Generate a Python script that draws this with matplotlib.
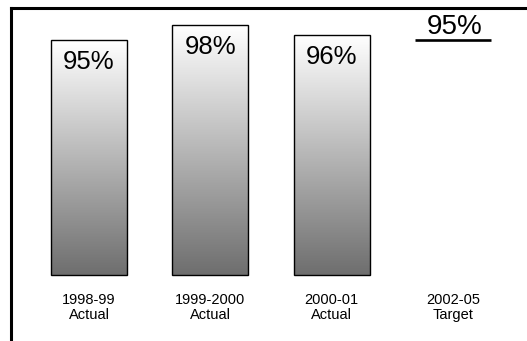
import numpy as np
import matplotlib
matplotlib.use("Agg")
import matplotlib.pyplot as plt
from matplotlib.lines import Line2D

plt.rcParams['font.family'] = ['Liberation Sans', 'DejaVu Sans']

# data
periods = ['1998-99', '1999-2000', '2000-01', '2002-05']
kinds = ['Actual', 'Actual', 'Actual', 'Target']
actual = [95, 98, 96]
target = 95
baseline = 48

W, H = 527, 341
fig = plt.figure(figsize=(W / 100, H / 100), dpi=100)
ax = fig.add_axes([0, 0, 1, 1])
ax.set_xlim(-0.734, 3.611)
ax.set_ylim(34.8, 103)
ax.axis('off')

width = 0.627
grad = np.linspace(0, 1, 256).reshape(-1, 1)
cmap = matplotlib.colors.LinearSegmentedColormap.from_list('g', ['#6e6e6e', '#ffffff'])

x = np.arange(len(actual))
for i, v in zip(x, actual):
    ax.imshow(grad, cmap=cmap, aspect='auto', origin='lower',
              extent=[i - width / 2, i + width / 2, baseline, v], zorder=1)
    ax.annotate(f'{v}%', (i, v), xytext=(0, -15.5), textcoords='offset points',
                ha='center', va='center', fontsize=18.5, zorder=3)
ax.bar(x, np.array(actual) - baseline, bottom=baseline, width=width,
       fill=False, edgecolor='black', linewidth=1, zorder=2)

# target marker
ax.hlines(target, 3 - width / 2, 3 + width / 2, color='black', linewidth=1.9)
ax.annotate(f'{target}%', (3, target), xytext=(1, 9), textcoords='offset points',
            ha='center', va='center', fontsize=20)

for i, (p, k) in enumerate(zip(periods, kinds)):
    ax.text(i, 41.5, p + '\n' + k, ha='center', va='center',
            fontsize=10.5, linespacing=1.15)

# frame (left and top only)
fig.add_artist(Line2D([10.5 / W, 10.5 / W], [0, 1 - 8 / H], color='black',
                      linewidth=2.2, transform=fig.transFigure, solid_capstyle='projecting'))
fig.add_artist(Line2D([10.5 / W, 1], [1 - 8 / H, 1 - 8 / H], color='black',
                      linewidth=2.2, transform=fig.transFigure, solid_capstyle='projecting'))

fig.savefig('out.png', dpi=100)
